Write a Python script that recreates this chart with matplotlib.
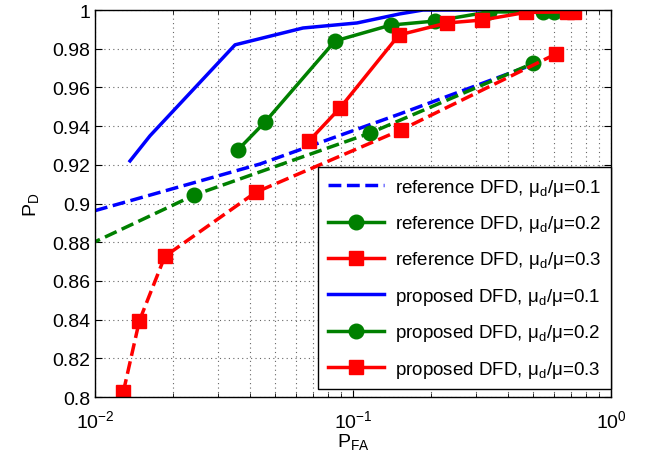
import numpy as np
import matplotlib
matplotlib.use('Agg')
import matplotlib.pyplot as plt
from matplotlib.lines import Line2D
from matplotlib.ticker import LogLocator, NullFormatter

plt.rcParams['font.family'] = ['Liberation Sans', 'DejaVu Sans']
plt.rcParams['mathtext.fontset'] = 'custom'
plt.rcParams['mathtext.rm'] = 'Liberation Sans'
plt.rcParams['mathtext.it'] = 'Liberation Sans'
plt.rcParams['mathtext.default'] = 'regular'

## Data
# proposed DFD (solid)
pfa_prop1 = [0.01367, 0.01634, 0.0349, 0.0640, 0.1036, 0.152, 0.187, 0.30, 0.50, 0.70]
pd_prop1  = [0.922, 0.935, 0.982, 0.9907, 0.9933, 0.998, 1.0, 1.0, 1.0, 1.0]

pfa_prop2 = [0.0358, 0.0456, 0.0852, 0.140, 0.208, 0.336, 0.545, 0.601]
pd_prop2  = [0.9277, 0.9421, 0.984, 0.9922, 0.9943, 0.999, 0.999, 0.999]

pfa_prop3 = [0.0675, 0.0891, 0.1507, 0.2314, 0.316, 0.469, 0.675, 0.719]
pd_prop3  = [0.9323, 0.9494, 0.9871, 0.9933, 0.9948, 0.9988, 0.999, 0.999]

# reference DFD (dashed)
pfa_ref1 = [0.010, 0.0436, 0.152, 0.48]
pd_ref1  = [0.8963, 0.9204, 0.9463, 0.971]

pfa_ref2 = [0.007, 0.0243, 0.1164, 0.50]
pd_ref2  = [0.8705, 0.9044, 0.9364, 0.9725]

pfa_ref3 = [0.01288, 0.01486, 0.01866, 0.0420, 0.154, 0.612]
pd_ref3  = [0.8027, 0.8394, 0.8727, 0.9058, 0.9381, 0.9773]

yticks = [0.8, 0.82, 0.84, 0.86, 0.88, 0.9, 0.92, 0.94, 0.96, 0.98, 1.0]
ytick_labels = ['0.8', '0.82', '0.84', '0.86', '0.88', '0.9', '0.92',
                '0.94', '0.96', '0.98', '1']

labels = ['reference DFD, $\\mu_d/\\mu$=0.1',
          'reference DFD, $\\mu_d/\\mu$=0.2',
          'reference DFD, $\\mu_d/\\mu$=0.3',
          'proposed DFD, $\\mu_d/\\mu$=0.1',
          'proposed DFD, $\\mu_d/\\mu$=0.2',
          'proposed DFD, $\\mu_d/\\mu$=0.3']

blue = (0, 0, 1)
green = (0, 0.5, 0)
red = (1, 0, 0)
lw = 2.5
ms = 10.5

fig = plt.figure(figsize=(6.47, 4.64), dpi=100)
ax = fig.add_axes([95/647, 1-398/464, 516/647, 387/464])

ax.plot(pfa_ref1, pd_ref1, '--', color=blue, lw=lw)
ax.plot(pfa_ref2, pd_ref2, '--', color=green, lw=lw, marker='o', ms=ms)
ax.plot(pfa_ref3, pd_ref3, '--', color=red, lw=lw, marker='s', ms=ms)
ax.plot(pfa_prop1, pd_prop1, '-', color=blue, lw=lw)
ax.plot(pfa_prop2, pd_prop2, '-', color=green, lw=lw, marker='o', ms=ms)
ax.plot(pfa_prop3, pd_prop3, '-', color=red, lw=lw, marker='s', ms=ms)

ax.set_xscale('log')
ax.set_xlim(1e-2, 1)
ax.set_ylim(0.8, 1)
ax.set_yticks(yticks)
ax.set_yticklabels(ytick_labels)
ax.xaxis.set_minor_locator(LogLocator(base=10, subs=np.arange(2, 10)))
ax.xaxis.set_minor_formatter(NullFormatter())

ax.tick_params(which='both', direction='in', top=True, right=True, labelsize=14)
ax.tick_params(axis='x', which='major', pad=9)
ax.tick_params(which='major', length=5)
ax.tick_params(which='minor', length=3)
ax.grid(True, which='major', ls=(0, (1, 3)), color='#666666', lw=0.8)
ax.grid(True, which='minor', axis='x', ls=(0, (1, 3)), color='#666666', lw=0.8)
for s in ax.spines.values():
    s.set_linewidth(1.0)

ax.set_xlabel('$P_{FA}$', fontsize=14, labelpad=0)
ax.set_ylabel('$P_D$', fontsize=14, labelpad=8)

handles = [Line2D([], [], ls='--', color=blue, lw=lw),
           Line2D([], [], ls='-', color=green, lw=lw, marker='o', ms=ms),
           Line2D([], [], ls='-', color=red, lw=lw, marker='s', ms=ms),
           Line2D([], [], ls='-', color=blue, lw=lw),
           Line2D([], [], ls='-', color=green, lw=lw, marker='o', ms=ms),
           Line2D([], [], ls='-', color=red, lw=lw, marker='s', ms=ms)]
leg = ax.legend(handles, labels, loc='lower right', bbox_to_anchor=(1, 8/387),
                borderaxespad=0, fontsize=13.5, handlelength=3, labelspacing=0.82,
                borderpad=0.5, handletextpad=0.6, fancybox=False, framealpha=1,
                edgecolor='black')
leg.get_frame().set_linewidth(1.0)

fig.savefig('out.png', dpi=100)
